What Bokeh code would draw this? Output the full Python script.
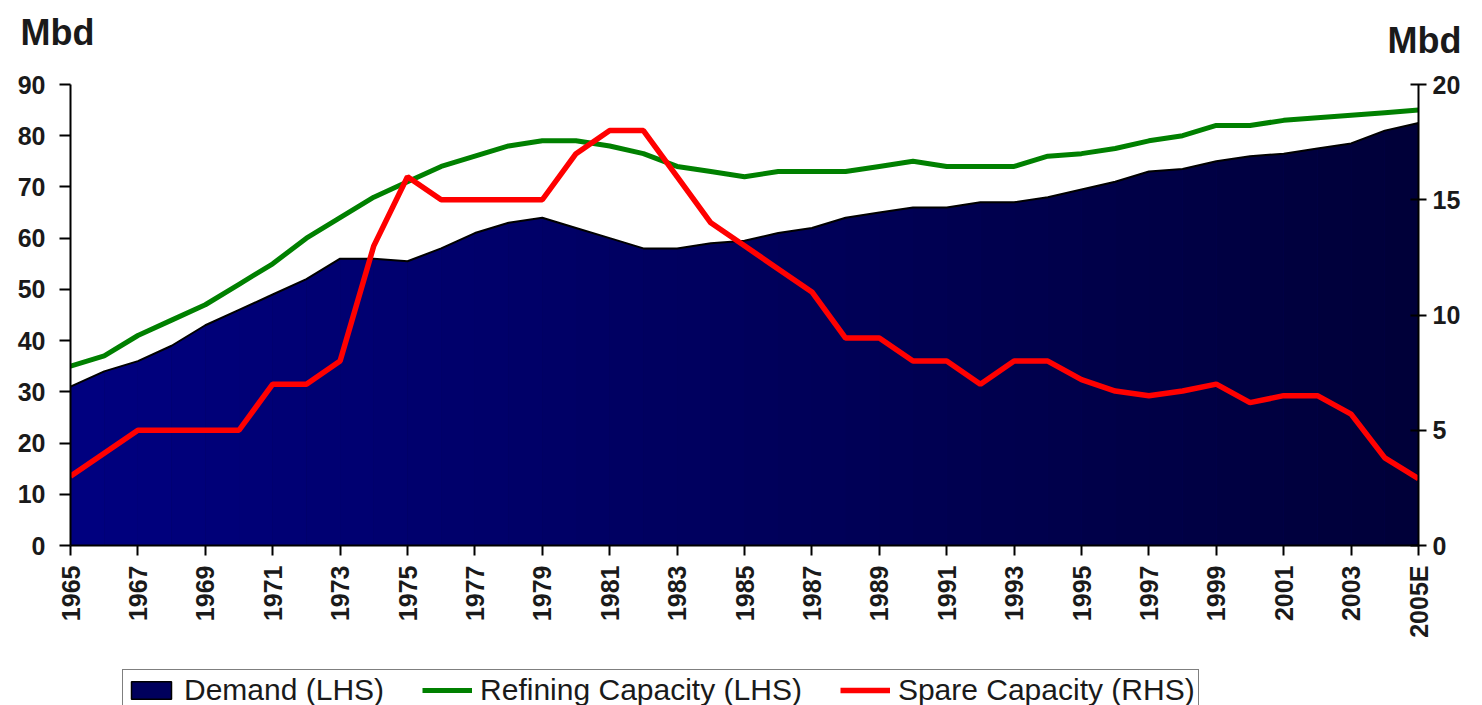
import math
from bokeh.plotting import figure
from bokeh.layouts import column
from bokeh.models import Range1d, LinearAxis, FixedTicker, Legend, LegendItem
from bokeh.embed import file_html
from bokeh.resources import INLINE

# ---- data ----
years = list(range(1965, 2006))
demand = [31, 34, 36, 39, 43, 46, 49, 52, 56, 56, 55.5, 58, 61, 63, 64, 62, 60, 58, 58, 59,
          59.5, 61, 62, 64, 65, 66, 66, 67, 67, 68, 69.5, 71, 73, 73.5, 75, 76, 76.5, 77.5, 78.5, 81, 82.5]
refining = [35, 37, 41, 44, 47, 51, 55, 60, 64, 68, 71, 74, 76, 78, 79, 79, 78, 76.5, 74, 73,
            72, 73, 73, 73, 74, 75, 74, 74, 74, 76, 76.5, 77.5, 79, 80, 82, 82, 83, 83.5, 84, 84.5, 85]
spare = [3, 4, 5, 5, 5, 5, 7, 7, 8, 13, 16, 15, 15, 15, 15, 17, 18, 18, 16, 14,
         13, 12, 11, 9, 9, 8, 8, 7, 8, 8, 7.2, 6.7, 6.5, 6.7, 7, 6.2, 6.5, 6.5, 5.7, 3.8, 2.9]
tick_years = list(range(1965, 2006, 2))
tick_labels = [str(y) for y in tick_years[:-1]] + ["2005E"]
left_ticks = [0, 10, 20, 30, 40, 50, 60, 70, 80, 90]
right_ticks = [0, 5, 10, 15, 20]
series_names = ["Demand (LHS)", "Refining Capacity (LHS)", "Spare Capacity (RHS)"]
unit_label = "Mbd"

FONT = "Liberation Sans"
W = 1482
NAVY_MID = "#00005c"
GREEN = "#008000"
RED = "#ff0000"
TXT = "#1a1a1a"

def bare(fig):
    fig.grid.visible = False
    fig.outline_line_color = None
    fig.background_fill_color = "white"
    fig.border_fill_color = "white"
    return fig

# ---- header: unit labels drawn as the single tick label of an unlined axis on each side ----
HEAD_H = 65
LEFT_UNIT_Y, RIGHT_UNIT_Y = 32, 40   # pixel rows (from top) of the two unit labels
head = bare(figure(width=W, height=HEAD_H, output_backend="svg", toolbar_location=None,
                   x_axis_type=None, y_axis_type=None,
                   min_border_top=0, min_border_bottom=0, min_border_left=0, min_border_right=0,
                   x_range=Range1d(0, 1), y_range=Range1d(HEAD_H, 0)))
head.title.visible = False
for side, ypix, standoff in (("left", LEFT_UNIT_Y, -24), ("right", RIGHT_UNIT_Y, -31)):
    ax = LinearAxis(ticker=FixedTicker(ticks=[ypix]), major_label_overrides={ypix: unit_label})
    ax.axis_line_color = None
    ax.major_tick_line_color = None
    ax.minor_tick_line_color = None
    ax.major_tick_in = 0
    ax.major_tick_out = 0
    ax.major_label_standoff = standoff
    ax.major_label_text_font = FONT
    ax.major_label_text_font_size = "36px"
    ax.major_label_text_font_style = "bold"
    ax.major_label_text_color = TXT
    head.add_layout(ax, side)

# ---- main chart ----
LEG_H = 39
MAIN_H = 705 - HEAD_H - LEG_H
p = bare(figure(width=W, height=MAIN_H, output_backend="svg", toolbar_location=None,
                x_range=Range1d(1965, 2005), y_range=Range1d(0, 90),
                min_border_left=70, min_border_right=W - 1418,
                min_border_top=84 - HEAD_H, min_border_bottom=MAIN_H - (545 - HEAD_H)))
p.extra_y_ranges = {"right": Range1d(0, 20)}

def grad(t):
    b0, b1 = 128, 56
    return "#%02x%02x%02x" % (0, 0, round(b0 + (b1 - b0) * t))

p.varea(x=years, y1=[0] * len(years), y2=demand, fill_color=grad(0.5))
n = len(years) - 1
for i in range(n):
    p.varea(x=years[i:i + 2], y1=[0, 0], y2=demand[i:i + 2], fill_color=grad((i + 0.5) / n))

p.line(years, demand, line_color="black", line_width=2)
p.line(years, refining, line_color=GREEN, line_width=5)
p.line(years, spare, line_color=RED, line_width=5.5, y_range_name="right")

xa = p.xaxis[0]
xa.ticker = FixedTicker(ticks=tick_years)
xa.major_label_overrides = {y: l for y, l in zip(tick_years, tick_labels)}
xa.major_label_orientation = math.pi / 2
xa.major_tick_in = 0
xa.major_tick_out = 10
xa.major_label_standoff = 10

ya = p.yaxis[0]
ya.ticker = FixedTicker(ticks=left_ticks)
ya.major_tick_in = 0
ya.major_tick_out = 11
ya.major_label_standoff = 14

ra = LinearAxis(y_range_name="right", ticker=FixedTicker(ticks=right_ticks))
ra.major_tick_in = 8
ra.major_tick_out = 8
ra.major_label_standoff = 6
p.add_layout(ra, "right")

for ax in (xa, ya, ra):
    ax.minor_tick_line_color = None
    ax.axis_line_width = 2
    ax.major_tick_line_width = 2
    ax.major_label_text_font = FONT
    ax.major_label_text_font_size = "25px"
    ax.major_label_text_font_style = "bold"
    ax.major_label_text_color = TXT
    ax.axis_line_color = "black"
    ax.major_tick_line_color = "black"

# ---- legend strip (series drawn outside its visible range, only the key shows) ----
leg = bare(figure(width=W, height=LEG_H, output_backend="svg", toolbar_location=None,
                  x_axis_type=None, y_axis_type=None,
                  min_border_left=0, min_border_right=0, min_border_top=0, min_border_bottom=0,
                  x_range=Range1d(0, 1), y_range=Range1d(0, 1)))
leg.title.visible = False
r_dem = leg.quad(left=years[:-1], right=years[1:], bottom=[0] * n, top=demand[:-1],
                 fill_color=NAVY_MID, line_color="black", line_width=1.5)
r_ref = leg.line(x=years, y=refining, line_color=GREEN, line_width=5)
r_spr = leg.line(x=years, y=spare, line_color=RED, line_width=5.5)

legend = Legend(items=[LegendItem(label=series_names[0], renderers=[r_dem]),
                       LegendItem(label=series_names[1], renderers=[r_ref]),
                       LegendItem(label=series_names[2], renderers=[r_spr])],
                orientation="horizontal", location=(52, -6))
legend.label_text_font = FONT
legend.label_text_font_size = "30px"
legend.label_text_color = TXT
legend.glyph_width = 50
legend.glyph_height = 22
legend.label_standoff = 8
legend.spacing = 38
legend.padding = 3
legend.margin = 0
legend.border_line_color = "black"
legend.border_line_width = 1.5
legend.background_fill_color = "white"
legend.background_fill_alpha = 1
leg.add_layout(legend, "center")

layout = column(head, p, leg, spacing=0)
open("out.html", "w").write(file_html(layout, INLINE))
